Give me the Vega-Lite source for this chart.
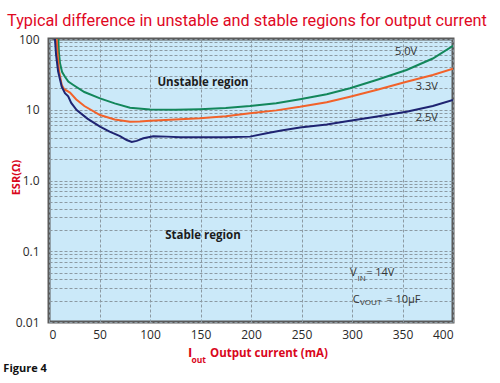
{
  "$schema": "https://vega.github.io/schema/vega-lite/v6.json",
  "width": 404,
  "height": 283,
  "autosize": {"type": "none"},
  "padding": {"left": 49, "top": 39, "right": 47, "bottom": 61},
  "background": "white",
  "title": {
    "text": "Typical difference in unstable  and stable regions for output current",
    "anchor": "start",
    "frame": "group",
    "dx": -42,
    "offset": 4,
    "font": "Roboto",
    "fontSize": 16.3,
    "fontWeight": "normal",
    "color": "#e0081f"
  },
  "config": {
    "font": "Open Sans",
    "view": {"fill": "#cbe9f9", "stroke": "#5b5b5b", "strokeWidth": 3}
  },
  "datasets": {
    "curves": [
      {"series": "5.0V", "I": 9.2, "ESR": 100},
      {"series": "5.0V", "I": 9.8, "ESR": 65},
      {"series": "5.0V", "I": 10.9, "ESR": 45.4},
      {"series": "5.0V", "I": 13, "ESR": 34},
      {"series": "5.0V", "I": 15.8, "ESR": 29.3},
      {"series": "5.0V", "I": 19.1, "ESR": 25},
      {"series": "5.0V", "I": 24.1, "ESR": 22.4},
      {"series": "5.0V", "I": 35, "ESR": 17.8},
      {"series": "5.0V", "I": 50.5, "ESR": 14.5},
      {"series": "5.0V", "I": 65, "ESR": 12.3},
      {"series": "5.0V", "I": 80.2, "ESR": 10.7},
      {"series": "5.0V", "I": 100, "ESR": 10.1},
      {"series": "5.0V", "I": 125, "ESR": 10.0},
      {"series": "5.0V", "I": 149.5, "ESR": 10.2},
      {"series": "5.0V", "I": 175, "ESR": 10.6},
      {"series": "5.0V", "I": 199, "ESR": 11.3},
      {"series": "5.0V", "I": 225, "ESR": 12.4},
      {"series": "5.0V", "I": 248.5, "ESR": 14.1},
      {"series": "5.0V", "I": 275, "ESR": 16.6},
      {"series": "5.0V", "I": 298, "ESR": 20.1},
      {"series": "5.0V", "I": 325, "ESR": 26.5},
      {"series": "5.0V", "I": 354, "ESR": 36.5},
      {"series": "5.0V", "I": 380, "ESR": 53},
      {"series": "5.0V", "I": 400, "ESR": 80},
      {"series": "3.3V", "I": 7.6, "ESR": 100},
      {"series": "3.3V", "I": 8.5, "ESR": 60},
      {"series": "3.3V", "I": 10, "ESR": 35},
      {"series": "3.3V", "I": 12.6, "ESR": 22.4},
      {"series": "3.3V", "I": 15, "ESR": 19.5},
      {"series": "3.3V", "I": 20.8, "ESR": 17.5},
      {"series": "3.3V", "I": 27, "ESR": 14},
      {"series": "3.3V", "I": 35, "ESR": 11.3},
      {"series": "3.3V", "I": 50.5, "ESR": 8.43},
      {"series": "3.3V", "I": 65, "ESR": 7.3},
      {"series": "3.3V", "I": 80.2, "ESR": 6.78},
      {"series": "3.3V", "I": 90, "ESR": 6.8},
      {"series": "3.3V", "I": 100, "ESR": 7.0},
      {"series": "3.3V", "I": 125, "ESR": 7.3},
      {"series": "3.3V", "I": 149.5, "ESR": 7.57},
      {"series": "3.3V", "I": 175, "ESR": 8.1},
      {"series": "3.3V", "I": 199, "ESR": 8.91},
      {"series": "3.3V", "I": 225, "ESR": 9.8},
      {"series": "3.3V", "I": 248.5, "ESR": 11.0},
      {"series": "3.3V", "I": 275, "ESR": 12.8},
      {"series": "3.3V", "I": 298, "ESR": 15.3},
      {"series": "3.3V", "I": 325, "ESR": 19.2},
      {"series": "3.3V", "I": 354, "ESR": 24.9},
      {"series": "3.3V", "I": 380, "ESR": 31},
      {"series": "3.3V", "I": 400, "ESR": 38},
      {"series": "2.5V", "I": 5.9, "ESR": 100},
      {"series": "2.5V", "I": 7, "ESR": 60},
      {"series": "2.5V", "I": 9, "ESR": 35},
      {"series": "2.5V", "I": 12.6, "ESR": 21.2},
      {"series": "2.5V", "I": 15.8, "ESR": 17.1},
      {"series": "2.5V", "I": 19, "ESR": 15.5},
      {"series": "2.5V", "I": 22, "ESR": 12.5},
      {"series": "2.5V", "I": 27.4, "ESR": 9.9},
      {"series": "2.5V", "I": 38, "ESR": 7.5},
      {"series": "2.5V", "I": 50.5, "ESR": 5.76},
      {"series": "2.5V", "I": 60, "ESR": 4.9},
      {"series": "2.5V", "I": 70.3, "ESR": 4.25},
      {"series": "2.5V", "I": 76.9, "ESR": 3.73},
      {"series": "2.5V", "I": 81.9, "ESR": 3.5},
      {"series": "2.5V", "I": 86.8, "ESR": 3.63},
      {"series": "2.5V", "I": 93.4, "ESR": 3.95},
      {"series": "2.5V", "I": 103.3, "ESR": 4.22},
      {"series": "2.5V", "I": 116.5, "ESR": 4.17},
      {"series": "2.5V", "I": 130, "ESR": 4.1},
      {"series": "2.5V", "I": 149.5, "ESR": 4.08},
      {"series": "2.5V", "I": 175, "ESR": 4.08},
      {"series": "2.5V", "I": 199, "ESR": 4.17},
      {"series": "2.5V", "I": 215.5, "ESR": 4.65},
      {"series": "2.5V", "I": 230, "ESR": 5.1},
      {"series": "2.5V", "I": 248.5, "ESR": 5.6},
      {"series": "2.5V", "I": 275, "ESR": 6.2},
      {"series": "2.5V", "I": 298, "ESR": 7.0},
      {"series": "2.5V", "I": 325, "ESR": 8.0},
      {"series": "2.5V", "I": 354, "ESR": 9.38},
      {"series": "2.5V", "I": 380, "ESR": 11.3},
      {"series": "2.5V", "I": 400, "ESR": 13.8}
    ],
    "regions": [
      {"text": "Unstable region", "I": 152.5, "ESR": 23.9},
      {"text": "Stable region", "I": 152.5, "ESR": 0.164}
    ],
    "curveLabels": [
      {"text": "5.0V", "I": 353.5, "ESR": 65.5},
      {"text": "3.3V", "I": 374, "ESR": 21.0},
      {"text": "2.5V", "I": 374, "ESR": 7.57}
    ],
    "condMain": [
      {"text": "V", "I": 298, "ESR": 0.0493},
      {"text": "= 14V", "I": 314, "ESR": 0.0493},
      {"text": "C", "I": 300.7, "ESR": 0.0205},
      {"text": "= 10µF", "I": 334, "ESR": 0.0205}
    ],
    "condSub": [
      {"text": "IN", "I": 305.5, "ESR": 0.0406},
      {"text": "VOUT", "I": 308, "ESR": 0.0184}
    ],
    "xTitleMain": [
      {"text": "Output current (mA)", "I": 159.4, "ESR": 0.00353}
    ],
    "xTitleI": [
      {"text": "I", "I": 137.6, "ESR": 0.00365}
    ],
    "xTitleSub": [
      {"text": "out", "I": 141.1, "ESR": 0.00286}
    ],
    "figure": [
      {"text": "Figure 4", "I": -45.2, "ESR": 0.00217}
    ]
  },
  "layer": [
    {
      "data": {"name": "curves"},
      "mark": {"type": "line", "strokeWidth": 2, "clip": true},
      "encoding": {
        "x": {
          "field": "I",
          "type": "quantitative",
          "scale": {"domain": [0, 400], "nice": false, "zero": false},
          "axis": {
            "title": null,
            "values": [0, 50, 100, 150, 200, 250, 300, 350, 400],
            "grid": true,
            "gridColor": "#8c9aa3",
            "gridDash": [3, 2],
            "gridWidth": 1,
            "domain": false,
            "ticks": false,
            "labelPadding": 7,
            "labelFontSize": 12,
            "labelColor": "#2a2a2a",
            "labelFont": "Open Sans"
          }
        },
        "y": {
          "field": "ESR",
          "type": "quantitative",
          "scale": {"type": "log", "domain": [0.01, 100], "nice": false},
          "axis": {
            "title": "ESR(Ω)",
            "titleColor": "#d9071c",
            "titleFontWeight": "bold",
            "titleFontSize": 11,
            "titleFont": "Open Sans",
            "titleX": -33,
            "titleY": 138,
            "titleAngle": -90,
            "titleAlign": "center",
            "titleBaseline": "middle",
            "values": [0.01, 0.02, 0.03, 0.04, 0.05, 0.06, 0.07, 0.08, 0.09, 0.1, 0.2, 0.3, 0.4, 0.5, 0.6, 0.7, 0.8, 0.9, 1, 2, 3, 4, 5, 6, 7, 8, 9, 10, 20, 30, 40, 50, 60, 70, 80, 90, 100],
            "labelExpr": "datum.value == 100 ? '100' : datum.value == 10 ? '10' : datum.value == 1 ? '1.0' : datum.value == 0.1 ? '0.1' : datum.value == 0.01 ? '0.01' : ''",
            "grid": true,
            "gridColor": "#8c9aa3",
            "gridDash": [3, 2],
            "gridWidth": 1,
            "domain": false,
            "ticks": false,
            "labelPadding": 10,
            "labelFontSize": 12,
            "labelColor": "#2a2a2a",
            "labelFont": "Open Sans"
          }
        },
        "color": {
          "field": "series",
          "type": "nominal",
          "scale": {"domain": ["5.0V", "3.3V", "2.5V"], "range": ["#13875b", "#f2622a", "#1f2472"]},
          "legend": null
        }
      }
    },
    {
      "data": {"name": "regions"},
      "mark": {"type": "text", "fontWeight": "bold", "fontSize": 11.5, "color": "#1c1c1c", "align": "center", "baseline": "middle", "font": "Open Sans"},
      "encoding": {
        "x": {"field": "I", "type": "quantitative"},
        "y": {"field": "ESR", "type": "quantitative"},
        "text": {"field": "text"}
      }
    },
    {
      "data": {"name": "curveLabels"},
      "mark": {"type": "text", "fontSize": 11, "color": "#333333", "align": "center", "baseline": "middle", "font": "Open Sans"},
      "encoding": {
        "x": {"field": "I", "type": "quantitative"},
        "y": {"field": "ESR", "type": "quantitative"},
        "text": {"field": "text"}
      }
    },
    {
      "data": {"name": "condMain"},
      "mark": {"type": "text", "fontSize": 11, "color": "#333333", "align": "left", "baseline": "middle", "font": "Open Sans"},
      "encoding": {
        "x": {"field": "I", "type": "quantitative"},
        "y": {"field": "ESR", "type": "quantitative"},
        "text": {"field": "text"}
      }
    },
    {
      "data": {"name": "condSub"},
      "mark": {"type": "text", "fontSize": 8, "color": "#333333", "align": "left", "baseline": "middle", "font": "Open Sans"},
      "encoding": {
        "x": {"field": "I", "type": "quantitative"},
        "y": {"field": "ESR", "type": "quantitative"},
        "text": {"field": "text"}
      }
    },
    {
      "data": {"name": "xTitleMain"},
      "mark": {"type": "text", "fontSize": 11.5, "fontWeight": "bold", "color": "#d9071c", "align": "left", "baseline": "middle", "font": "Open Sans"},
      "encoding": {
        "x": {"field": "I", "type": "quantitative"},
        "y": {"field": "ESR", "type": "quantitative"},
        "text": {"field": "text"}
      }
    },
    {
      "data": {"name": "xTitleI"},
      "mark": {"type": "text", "fontSize": 13, "fontWeight": "bold", "color": "#d9071c", "align": "left", "baseline": "middle", "font": "Open Sans"},
      "encoding": {
        "x": {"field": "I", "type": "quantitative"},
        "y": {"field": "ESR", "type": "quantitative"},
        "text": {"field": "text"}
      }
    },
    {
      "data": {"name": "xTitleSub"},
      "mark": {"type": "text", "fontSize": 8.5, "fontWeight": "bold", "color": "#d9071c", "align": "left", "baseline": "middle", "font": "Open Sans"},
      "encoding": {
        "x": {"field": "I", "type": "quantitative"},
        "y": {"field": "ESR", "type": "quantitative"},
        "text": {"field": "text"}
      }
    },
    {
      "data": {"name": "figure"},
      "mark": {"type": "text", "fontSize": 11, "fontWeight": "bold", "color": "#111111", "align": "left", "baseline": "middle", "font": "Open Sans"},
      "encoding": {
        "x": {"field": "I", "type": "quantitative"},
        "y": {"field": "ESR", "type": "quantitative"},
        "text": {"field": "text"}
      }
    }
  ]
}
